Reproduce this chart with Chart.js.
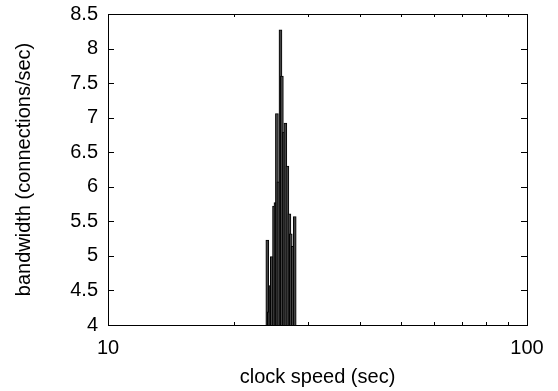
<!DOCTYPE html>
<html>
<head>
<meta charset="utf-8">
<script src="https://cdn.jsdelivr.net/npm/chart.js@4"></script>
<style>
  html, body { margin: 0; padding: 0; background: #fff; }
  #wrap { width: 558px; height: 391px; }
</style>
</head>
<body>
<div id="wrap"><canvas id="chart"></canvas></div>
<script>
// data
const clockSpeed = [24.0, 24.2, 24.4, 24.6, 24.9, 25.1, 25.3, 25.5, 25.8, 26.0, 26.3, 26.5, 26.8, 27.1, 27.3, 27.6, 27.9];
const bandwidth = [5.23, 4.19, 4.57, 4.99, 5.72, 5.77, 7.06, 6.07, 8.27, 7.6, 6.79, 6.92, 6.3, 5.61, 5.32, 5.14, 5.57];
const xTickLabels = [10, 100];
const xTicks = [10, 20, 30, 40, 50, 60, 70, 80, 90, 100];
const yTicks = [4, 4.5, 5, 5.5, 6, 6.5, 7, 7.5, 8, 8.5];

const font = { family: "'Liberation Sans', Arial, sans-serif", size: 20 };

// gnuplot style frame with inward ticks on all four sides
const framePlugin = {
  id: "frame",
  afterDatasetsDraw(chart) {
    const ctx = chart.ctx;
    const a = chart.chartArea;
    const xs = chart.scales.x;
    const ys = chart.scales.y;
    ctx.save();
    ctx.strokeStyle = "#000";
    ctx.lineWidth = 1;
    ctx.beginPath();
    for (const t of xs.ticks) {
      const px = Math.round(xs.getPixelForValue(t.value)) + 0.5;
      const len = xTickLabels.includes(t.value) ? 6 : 3;
      ctx.moveTo(px, a.bottom);
      ctx.lineTo(px, a.bottom - len);
      ctx.moveTo(px, a.top);
      ctx.lineTo(px, a.top + len);
    }
    for (const t of ys.ticks) {
      const py = Math.round(ys.getPixelForValue(t.value)) + 0.5;
      ctx.moveTo(a.left, py);
      ctx.lineTo(a.left + 6, py);
      ctx.moveTo(a.right, py);
      ctx.lineTo(a.right - 6, py);
    }
    ctx.stroke();
    ctx.strokeRect(Math.round(a.left) + 0.5, Math.round(a.top) + 0.5,
      Math.round(a.right - a.left), Math.round(a.bottom - a.top));
    ctx.restore();
  }
};

const points = clockSpeed.map((x, i) => ({ x: x, y: bandwidth[i] }));

new Chart(document.getElementById("chart"), {
  type: "bar",
  data: {
    datasets: [{
      data: points,
      backgroundColor: "#444",
      borderColor: "#000",
      borderWidth: 1,
      barThickness: 3,
      borderSkipped: "bottom"
    }]
  },
  options: {
    responsive: true,
    maintainAspectRatio: false,
    animation: false,
    layout: { padding: { top: 14, right: 31, left: 0, bottom: 0 } },
    plugins: { legend: { display: false }, tooltip: { enabled: false } },
    scales: {
      x: {
        type: "logarithmic",
        min: 10,
        max: 100,
        offset: false,
        grid: { display: false, drawTicks: false },
        border: { display: false },
        afterBuildTicks: (s) => { s.ticks = xTicks.map((v) => ({ value: v })); },
        ticks: {
          color: "#000",
          font: font,
          padding: 11,
          maxRotation: 0,
          autoSkip: false,
          callback: (v) => xTickLabels.includes(v) ? String(v) : ""
        },
        title: { display: true, text: "clock speed (sec)", color: "#000", font: font, padding: { top: 0, bottom: 2 } },
        afterFit: (s) => { s.height = 66; s.paddingLeft = 0; s.paddingRight = 0; }
      },
      y: {
        min: 4,
        max: 8.5,
        grid: { display: false, drawTicks: false },
        border: { display: false },
        afterBuildTicks: (s) => { s.ticks = yTicks.map((v) => ({ value: v })); },
        ticks: { color: "#000", font: font, padding: 10, callback: (v) => String(v) },
        title: { display: true, text: "bandwidth (connections/sec)", color: "#000", font: font, padding: { top: 12, bottom: 0 } },
        afterFit: (s) => { s.width = 108; s.paddingTop = 0; s.paddingBottom = 0; }
      }
    }
  },
  plugins: [framePlugin]
});
</script>
</body>
</html>
